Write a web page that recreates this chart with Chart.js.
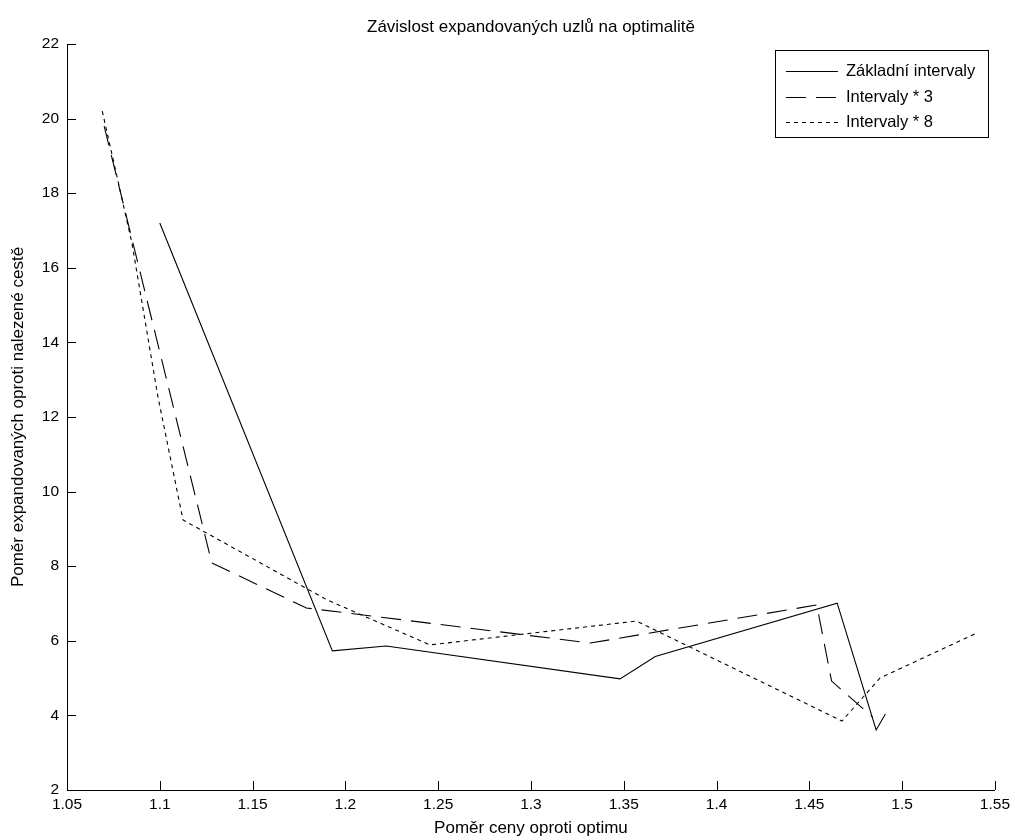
<!DOCTYPE html>
<html>
<head>
<meta charset="utf-8">
<script src="https://cdn.jsdelivr.net/npm/chart.js@4/dist/chart.umd.min.js"></script>
<style>
  html, body { margin: 0; padding: 0; background: #fff; }
  canvas { display: block; }
</style>
</head>
<body>
<canvas id="chart" width="1015" height="840"></canvas>
<script>
const TITLE = 'Závislost expandovaných uzlů na optimalitě';
const X_TITLE = 'Poměr ceny oproti optimu';
const Y_TITLE = 'Poměr expandovaných oproti nalezené cestě';

const X_TICKS = [1.05, 1.1, 1.15, 1.2, 1.25, 1.3, 1.35, 1.4, 1.45, 1.5, 1.55];
const Y_TICKS = [2, 4, 6, 8, 10, 12, 14, 16, 18, 20, 22];

const SERIES_LABELS = ['Základní intervaly', 'Intervaly * 3', 'Intervaly * 8'];

const BASE_X = [1.100, 1.193, 1.222, 1.348, 1.367, 1.465, 1.486, 1.491];
const BASE_Y = [17.2, 5.73, 5.86, 4.98, 5.58, 7.01, 3.61, 4.04];

const X3_X = [1.070, 1.128, 1.179, 1.332, 1.454, 1.462, 1.484];
const X3_Y = [19.8, 8.09, 6.88, 5.94, 6.96, 4.92, 3.96];

const X8_X = [1.069, 1.085, 1.099, 1.1125, 1.19, 1.2456, 1.357, 1.4676, 1.488, 1.5403];
const X8_Y = [20.2, 16.66, 12.54, 9.24, 7.1, 5.89, 6.53, 3.85, 5.0, 6.21];

const FONT = 'Arial, "Liberation Sans", sans-serif';

function pts(xs, ys) {
  return xs.map((x, i) => ({ x, y: ys[i] }));
}

function fmt(v) {
  return String(Number(v.toFixed(2)));
}

// MATLAB style ticks pointing into the plot
const inwardTicks = {
  id: 'inwardTicks',
  afterDatasetsDraw(chart) {
    const { ctx, chartArea: a, scales: { x, y } } = chart;
    ctx.save();
    ctx.strokeStyle = '#000';
    ctx.lineWidth = 1;
    ctx.beginPath();
    X_TICKS.forEach(v => {
      const px = Math.round(x.getPixelForValue(v)) + 0.5;
      ctx.moveTo(px, a.bottom);
      ctx.lineTo(px, a.bottom - 9);
    });
    Y_TICKS.forEach(v => {
      const py = Math.round(y.getPixelForValue(v)) + 0.5;
      ctx.moveTo(a.left, py);
      ctx.lineTo(a.left + 9, py);
    });
    ctx.stroke();
    ctx.restore();
  }
};

// boxed legend in the top right corner of the axes
const boxLegend = {
  id: 'boxLegend',
  afterDraw(chart) {
    const { ctx, chartArea: a } = chart;
    const w = 213, h = 87;
    const left = a.right - 7 - w, top = a.top + 6;
    ctx.save();
    ctx.fillStyle = '#fff';
    ctx.fillRect(left, top, w, h);
    ctx.strokeStyle = '#000';
    ctx.lineWidth = 1;
    ctx.setLineDash([]);
    ctx.strokeRect(Math.round(left) + 0.5, Math.round(top) + 0.5, w, h);
    ctx.font = '16.5px ' + FONT;
    ctx.textBaseline = 'middle';
    ctx.fillStyle = '#000';
    chart.data.datasets.forEach((ds, i) => {
      const yy = Math.round(top + 21 + i * 25.5) + 0.5;
      ctx.setLineDash(ds.borderDash || []);
      ctx.beginPath();
      ctx.moveTo(left + 11, yy);
      ctx.lineTo(left + 63, yy);
      ctx.stroke();
      ctx.fillText(ds.label, left + 71, yy);
    });
    ctx.restore();
  }
};

const lineStyle = {
  borderColor: '#000',
  borderWidth: 1.1,
  pointRadius: 0,
  tension: 0,
  fill: false,
};

new Chart(document.getElementById('chart'), {
  type: 'line',
  data: {
    datasets: [
      { label: SERIES_LABELS[0], data: pts(BASE_X, BASE_Y), ...lineStyle },
      { label: SERIES_LABELS[1], data: pts(X3_X, X3_Y), borderDash: [20, 10], ...lineStyle },
      { label: SERIES_LABELS[2], data: pts(X8_X, X8_Y), borderDash: [4, 4], ...lineStyle },
    ],
  },
  options: {
    responsive: false,
    animation: false,
    devicePixelRatio: 1,
    layout: { padding: { left: 0, right: 20, top: 0, bottom: 0 } },
    plugins: {
      legend: { display: false },
      tooltip: { enabled: false },
      title: {
        display: true,
        text: TITLE,
        fullSize: false,
        color: '#000',
        font: { family: FONT, size: 17, weight: 'normal', lineHeight: 1.2 },
        padding: { top: 17, bottom: 6.6 },
      },
    },
    scales: {
      x: {
        type: 'linear',
        position: 'bottom',
        min: 1.05,
        max: 1.55,
        afterBuildTicks: s => { s.ticks = X_TICKS.map(v => ({ value: v })); },
        afterFit: s => { s.height = 50; },
        grid: { display: true, drawOnChartArea: false, drawTicks: false },
        border: { display: true, color: '#000', width: 1 },
        ticks: {
          color: '#000',
          padding: 5,
          maxRotation: 0,
          autoSkip: false,
          font: { family: FONT, size: 15.5 },
          callback: v => fmt(v),
        },
        title: {
          display: true,
          text: X_TITLE,
          color: '#000',
          font: { family: FONT, size: 17, lineHeight: 1.2 },
          padding: { top: 0, bottom: 1 },
        },
      },
      y: {
        type: 'linear',
        min: 2,
        max: 22,
        afterBuildTicks: s => { s.ticks = Y_TICKS.map(v => ({ value: v })); },
        afterFit: s => { s.width = 67; },
        grid: { display: true, drawOnChartArea: false, drawTicks: false },
        border: { display: true, color: '#000', width: 1 },
        ticks: {
          color: '#000',
          padding: 8,
          autoSkip: false,
          font: { family: FONT, size: 15.5 },
          callback: v => fmt(v),
        },
        title: {
          display: true,
          text: Y_TITLE,
          color: '#000',
          font: { family: FONT, size: 17, lineHeight: 1.2 },
          padding: { top: 8, bottom: 0 },
        },
      },
    },
  },
  plugins: [inwardTicks, boxLegend],
});
</script>
</body>
</html>
